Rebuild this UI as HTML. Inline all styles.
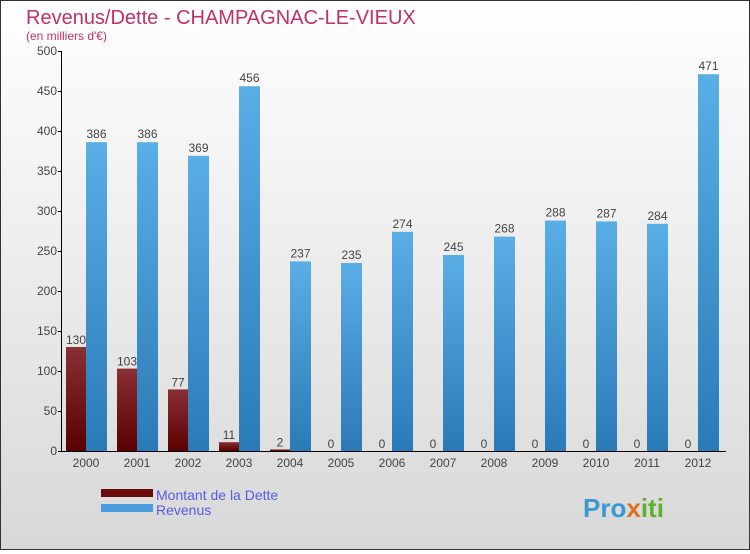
<!DOCTYPE html>
<html><head><meta charset="utf-8"><style>
html,body{margin:0;padding:0}
body{width:750px;height:550px;overflow:hidden;font-family:"Liberation Sans","DejaVu Sans",sans-serif}
#wrap{position:relative;width:748px;height:548px;border:1px solid #333;background:linear-gradient(#ffffff,#d8d8d8)}
</style></head><body>
<div id="wrap">
<svg id="chart" width="748" height="548">
<defs>
<linearGradient id="gd" x1="0" y1="0" x2="0" y2="1"><stop offset="0" stop-color="#8a3035"/><stop offset="1" stop-color="#5a0000"/></linearGradient>
<linearGradient id="gr" x1="0" y1="0" x2="0" y2="1"><stop offset="0" stop-color="#5aaee6"/><stop offset="1" stop-color="#2a7ab8"/></linearGradient>
</defs>
<text x="25" y="23" font-size="20" fill="#c0306a">Revenus/Dette - CHAMPAGNAC-LE-VIEUX</text>
<text x="25" y="39" font-size="12" fill="#c0306a">(en milliers d'€)</text>
<g id="yaxis"></g><g id="bars"></g>
<g>
<rect x="100" y="488" width="52" height="8" fill="#6a0a0a"/>
<text x="155" y="499" font-size="14" fill="#5a5ae6">Montant de la Dette</text>
<rect x="100" y="503" width="52" height="8" fill="#4a9ee0"/>
<text x="155" y="514" font-size="14" fill="#5a5ae6">Revenus</text>
</g>
<text x="582" y="516" font-size="26" font-weight="bold" fill="#3a9ad0">Pro<tspan fill="#e07020">x</tspan><tspan fill="#60b030">iti</tspan></text>
</svg></div>
<script>
const years=["2000","2001","2002","2003","2004","2005","2006","2007","2008","2009","2010","2011","2012"];
const dette=[130,103,77,11,2,0,0,0,0,0,0,0,0];
const revenus=[386,386,369,456,237,235,274,245,268,288,287,284,471];
const yTicks=[0,50,100,150,200,250,300,350,400,450,500];
const NS="http://www.w3.org/2000/svg";
function y(v){return 450-v*0.8;}
function gx(i){return 65+i*51;}
function mk(t,a,p){const e=document.createElementNS(NS,t);for(const k in a)e.setAttribute(k,a[k]);p.appendChild(e);return e;}
const ya=document.getElementById('yaxis'),bg=document.getElementById('bars');
let ax=mk('line',{x1:60.5,y1:50,x2:60.5,y2:450,stroke:'#000','stroke-width':1},ya);


let xa=mk('line',{x1:60,y1:450.5,x2:725,y2:450.5,stroke:'#000','stroke-width':1},ya);


yTicks.forEach(v=>{
 const l=mk('line',{x1:57,y1:y(v)+.5,x2:61,y2:y(v)+.5,stroke:'#000'},ya);
 
 
 const t=mk('text',{x:56,y:y(v)+4,'font-size':12,'text-anchor':'end',fill:'#444'},ya);
 t.textContent=v;
 
 
});
years.forEach((yr,i)=>{
 const x=gx(i);
 const d=mk('rect',{x:x,y:y(dette[i]),width:20,height:dette[i]*0.8,fill:'url(#gd)'},bg);
 
 
 const dl=mk('text',{x:x+10,y:y(dette[i])-3,'font-size':12,'text-anchor':'middle',fill:'#444'},bg);
 dl.textContent=dette[i];
 
 
 const r=mk('rect',{x:x+20,y:y(revenus[i]),width:21,height:revenus[i]*0.8,fill:'url(#gr)'},bg);
 
 
 const rl=mk('text',{x:x+30.5,y:y(revenus[i])-4,'font-size':12,'text-anchor':'middle',fill:'#444'},bg);
 rl.textContent=revenus[i];
 
 
 const xl=mk('text',{x:x+20,y:466,'font-size':12,'text-anchor':'middle',fill:'#444'},bg);
 xl.textContent=yr;
 
 
});
</script>
</body></html>
